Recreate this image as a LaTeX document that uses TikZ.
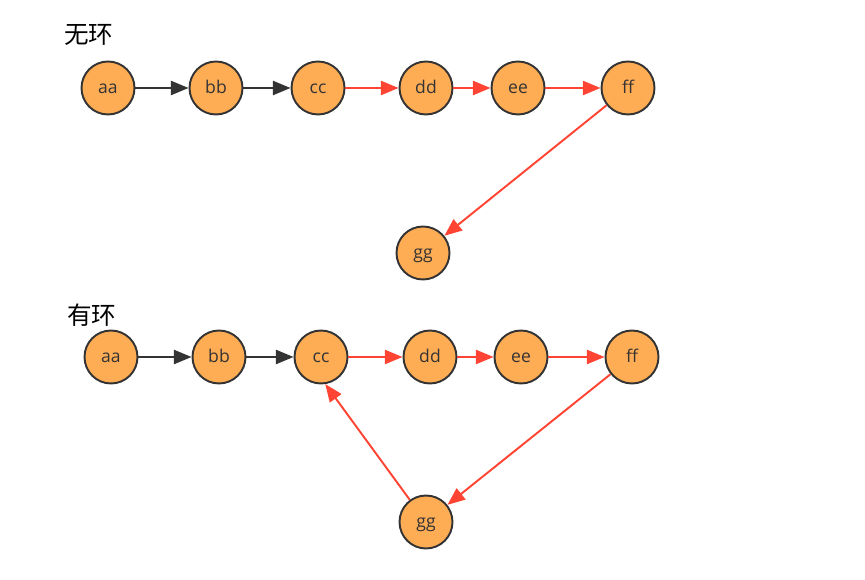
\documentclass[tikz,border=0pt]{standalone}
\usepackage{fontspec}
\setmainfont{Open Sans}
\newfontfamily\cjk{Noto Sans CJK SC}
\usetikzlibrary{arrows.meta}
\definecolor{nodeorange}{HTML}{FFAD55}
\definecolor{edgegray}{HTML}{333333}
\definecolor{edgered}{HTML}{FF4433}
\tikzset{>={Triangle[length=10pt,width=8pt]}}
\tikzset{
  vnode/.style={circle,draw=edgegray,line width=1.1pt,fill=nodeorange,
    minimum size=1.06cm,inner sep=0pt,font=\fontsize{10}{12}\selectfont,
    text height=1.5ex,text depth=0.25ex,text=black!80},
  title/.style={anchor=west,font=\cjk\fontsize{14}{16}\selectfont},
  blk/.style={->,draw=edgegray,line width=1.1pt},
  red/.style={->,draw=edgered,line width=1.1pt}
}

\begin{document}
\begin{tikzpicture}[x=0.02cm,y=-0.02cm]
\useasboundingbox (0,0) rectangle (865,580);
% no cycle
\node[title] (t1) at (58,35) {无环};
\node[vnode] (a1) at (108,88) {aa};
\node[vnode] (b1) at (216,88) {bb};
\node[vnode] (c1) at (318,88) {cc};
\node[vnode] (d1) at (426,88) {dd};
\node[vnode] (e1) at (518,88) {ee};
\node[vnode] (f1) at (628,88) {ff};
\node[vnode] (g1) at (423,253) {gg};
\draw[blk] (a1) -- (b1);
\draw[blk] (b1) -- (c1);
\draw[red] (c1) -- (d1);
\draw[red] (d1) -- (e1);
\draw[red] (e1) -- (f1);
\draw[red] (f1) -- (g1);
% with cycle
\node[title] (t2) at (61,315) {有环};
\node[vnode] (a2) at (111,357) {aa};
\node[vnode] (b2) at (219,357) {bb};
\node[vnode] (c2) at (321,357) {cc};
\node[vnode] (d2) at (430,357) {dd};
\node[vnode] (e2) at (521,357) {ee};
\node[vnode] (f2) at (632,357) {ff};
\node[vnode] (g2) at (426,522) {gg};
\draw[blk] (a2) -- (b2);
\draw[blk] (b2) -- (c2);
\draw[red] (c2) -- (d2);
\draw[red] (d2) -- (e2);
\draw[red] (e2) -- (f2);
\draw[red] (f2) -- (g2);
\draw[red] (g2) -- (c2.-81);
\end{tikzpicture}
\end{document}
